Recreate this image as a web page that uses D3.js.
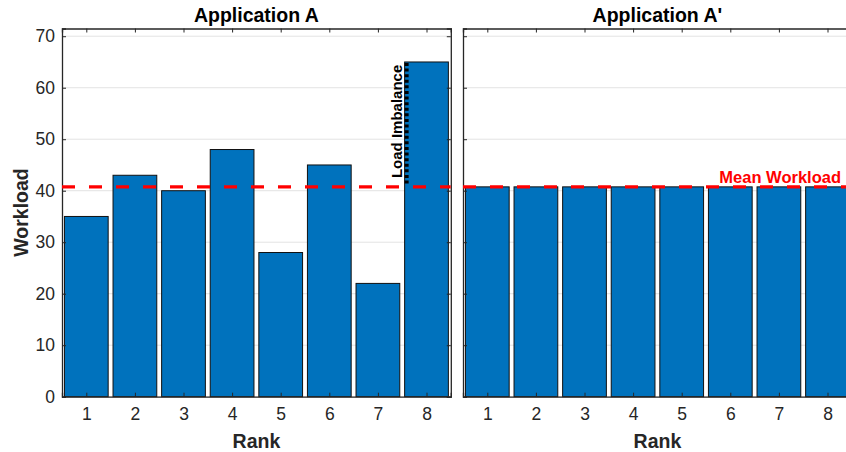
<!DOCTYPE html>
<html>
  <head>
    <meta http-equiv="Content-Type" content="text/html;charset=utf-8"/>
    <title>Workload per rank</title>
    <script src="https://d3js.org/d3.v7.min.js"></script>
    <style>
      body { margin: 0; background: #fff; }
      svg { display: block; font-family: "Liberation Sans", Arial, sans-serif; }
    </style>
  </head>
  <body>
    <div id="content"></div>
    <script type="text/javascript">

        // chart data
        const ranks = [1, 2, 3, 4, 5, 6, 7, 8]
        const workloadA = [35, 43, 40, 48, 28, 45, 22, 65]
        const workloadBalanced = [40.75, 40.75, 40.75, 40.75, 40.75, 40.75, 40.75, 40.75]
        const meanWorkload = 40.75
        const yTicks = [0, 10, 20, 30, 40, 50, 60, 70]
        const panelTitles = ["Application A", "Application A'"]

        const width = 846,
            height = 452,
            plotTop = 28.5,
            plotBottom = 396.7,
            panelW = 388.8,
            panelsX = [62, 463]

        const svg = d3.select('#content').append('svg')
            .attr('width', width).attr('height', height)

        const yScale = d3.scaleLinear()
            .domain([0, 71.5])
            .range([plotBottom, plotTop])

        const axisColor = '#262626'

        const panels = [
            { title: panelTitles[0], values: workloadA, left: panelsX[0], labels: true },
            { title: panelTitles[1], values: workloadBalanced, left: panelsX[1], labels: false }
        ]

        panels.forEach((p, i) => {
            const xScale = d3.scaleLinear()
                .domain([0.5, 8.5])
                .range([p.left, p.left + panelW])
            const bw = (xScale(1) - xScale(0)) * 0.9

            const g = svg.append('g')
            const clipId = 'clip' + i
            svg.append('clipPath').attr('id', clipId)
                .append('rect')
                .attr('x', p.left).attr('y', plotTop)
                .attr('width', panelW).attr('height', plotBottom - plotTop)

            // grid
            g.append('g')
                .selectAll('line')
                .data(yTicks)
                .enter()
                .append('line')
                .attr('x1', p.left).attr('x2', p.left + panelW)
                .attr('y1', d => yScale(d)).attr('y2', d => yScale(d))
                .attr('stroke', '#e3e3e3')
                .attr('stroke-width', 1)

            // bars
            g.append('g')
                .selectAll('rect')
                .data(p.values)
                .enter()
                .append('rect')
                .attr('x', (d, j) => xScale(ranks[j]) - bw / 2)
                .attr('y', d => yScale(d))
                .attr('width', bw)
                .attr('height', d => yScale(0) - yScale(d))
                .attr('fill', '#0072BD')
                .attr('stroke', '#111')
                .attr('stroke-width', 1)

            // axes
            const xAxis = d3.axisBottom(xScale).tickValues(ranks).tickSize(-4).tickPadding(11)
            const xAxisTop = d3.axisTop(xScale).tickValues(ranks).tickSize(-4).tickFormat('')
            const yAxis = d3.axisLeft(yScale).tickValues(yTicks).tickSize(-4).tickPadding(7)
            const yAxisRight = d3.axisRight(yScale).tickValues(yTicks).tickSize(-4).tickFormat('')
            if (!p.labels) yAxis.tickFormat('')

            const axes = [
                g.append('g').attr('transform', 'translate(0,' + plotBottom + ')').call(xAxis),
                g.append('g').attr('transform', 'translate(0,' + plotTop + ')').call(xAxisTop),
                g.append('g').attr('transform', 'translate(' + p.left + ',0)').call(yAxis),
                g.append('g').attr('transform', 'translate(' + (p.left + panelW) + ',0)').call(yAxisRight)
            ]
            axes.forEach(a => {
                a.select('.domain').attr('stroke', axisColor).attr('stroke-width', 1.3)
                a.selectAll('.tick line').attr('stroke', axisColor).attr('stroke-width', 1)
                a.selectAll('.tick text')
                    .attr('fill', axisColor)
                    .style('font-size', '17.5px')
                    .style('font-family', '"Liberation Sans", Arial, sans-serif')
            })

            // mean line
            g.append('line')
                .attr('clip-path', 'url(#' + clipId + ')')
                .attr('x1', p.left).attr('x2', p.left + panelW)
                .attr('y1', yScale(meanWorkload)).attr('y2', yScale(meanWorkload))
                .attr('stroke', '#ff0000')
                .attr('stroke-width', 3.4)
                .attr('stroke-dasharray', '13,14')

            // title
            svg.append('text')
                .attr('x', p.left + panelW / 2)
                .attr('y', 21.5)
                .attr('text-anchor', 'middle')
                .style('font-size', '19.5px')
                .style('font-weight', 'bold')
                .attr('fill', '#000')
                .text(p.title)

            // x label
            svg.append('text')
                .attr('x', p.left + panelW / 2)
                .attr('y', 447.5)
                .attr('text-anchor', 'middle')
                .style('font-size', '19.5px')
                .style('font-weight', 'bold')
                .attr('fill', axisColor)
                .text('Rank')

            if (i === 0) {
                // load imbalance marker on the last rank
                const lx = xScale(ranks[7]) - bw / 2 + 2
                g.append('line')
                    .attr('x1', lx).attr('x2', lx)
                    .attr('y1', yScale(workloadA[7]) + 1)
                    .attr('y2', yScale(meanWorkload) - 3)
                    .attr('stroke', '#000')
                    .attr('stroke-width', 4)
                    .attr('stroke-dasharray', '3,2.6')

                g.append('text')
                    .attr('transform', 'translate(' + (lx - 4.5) + ',' + ((yScale(workloadA[7]) + yScale(meanWorkload)) / 2 - 3) + ') rotate(-90)')
                    .attr('text-anchor', 'middle')
                    .style('font-size', '15px')
                    .style('font-weight', 'bold')
                    .attr('fill', '#000')
                    .text('Load Imbalance')
            } else {
                svg.append('text')
                    .attr('x', 841)
                    .attr('y', 183.3)
                    .attr('text-anchor', 'end')
                    .style('font-size', '16.5px')
                    .style('font-weight', 'bold')
                    .attr('fill', '#ff0000')
                    .text('Mean Workload')
            }
        })

        // y label
        svg.append('text')
            .attr('transform', 'translate(28,212.5) rotate(-90)')
            .attr('text-anchor', 'middle')
            .style('font-size', '19.5px')
            .style('font-weight', 'bold')
            .attr('fill', axisColor)
            .text('Workload')

    </script>
  </body>
</html>
